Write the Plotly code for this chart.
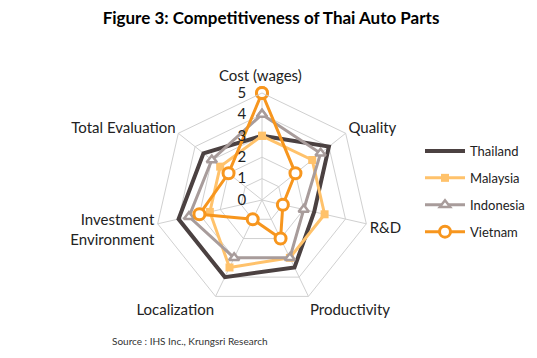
import plotly.graph_objects as go

categories = ["Cost (wages)", "Quality", "R&D", "Productivity", "Localization",
              "Investment<br>Environment", "Total Evaluation"]
thailand = [3, 4, 2.5, 3.5, 4, 4, 3.5]
malaysia = [3, 3, 3, 3, 3.5, 2.5, 2.5]
indonesia = [4, 3.5, 2, 3, 3, 3.5, 3]
vietnam = [5, 2, 1, 2, 1, 3, 2]
radial_ticks = [0, 1, 2, 3, 4, 5]

FONT = "Lato"

def closed(v):
    return list(v) + [v[0]]

theta = closed(categories)
# top label drawn as annotation so it can sit clear of the "5" tick
angular_text = [""] + categories[1:]

fig = go.Figure()
fig.add_trace(go.Scatterpolar(
    r=closed(thailand), theta=theta, name="Thailand", mode="lines", legendgroup="a",
    line=dict(color="#4B4141", width=4)))
fig.add_trace(go.Scatterpolar(
    r=closed(malaysia), theta=theta, name="Malaysia", mode="lines+markers", legendgroup="b",
    line=dict(color="#FFC26B", width=3),
    marker=dict(symbol="square", size=8, color="#FFC26B")))
fig.add_trace(go.Scatterpolar(
    r=closed(indonesia), theta=theta, name="Indonesia", mode="lines+markers", legendgroup="c",
    line=dict(color="#A89C9B", width=3),
    marker=dict(symbol="triangle-up", size=9, color="white",
                line=dict(color="#A89C9B", width=2.5))))
fig.add_trace(go.Scatterpolar(
    r=closed(vietnam), theta=theta, name="Vietnam", mode="lines+markers", legendgroup="d",
    line=dict(color="#F7961E", width=3),
    marker=dict(symbol="circle", size=11, color="white",
                line=dict(color="#F7961E", width=3))))

R = 107
cx, cy = 254, 192
W, H = 537, 358
fig.update_layout(
    width=W, height=H,
    margin=dict(l=0, r=0, t=0, b=0),
    paper_bgcolor="white",
    font=dict(family=FONT, size=13, color="#222"),
    title=dict(text="<b>Figure 3: Competitiveness of Thai Auto Parts</b>",
               x=263 / W, xanchor="center", y=1 - 10 / H, yanchor="middle",
               font=dict(family=FONT, size=17, color="black")),
    polar=dict(
        domain=dict(x=[(cx - R) / W, (cx + R) / W],
                    y=[(H - cy - R) / H, (H - cy + R) / H]),
        gridshape="linear",
        bgcolor="white",
        radialaxis=dict(range=[0, 5], tickvals=radial_ticks, angle=90,
                        tickangle=90, side="counterclockwise", showline=False,
                        ticks="outside", ticklen=10, tickcolor="rgba(0,0,0,0)",
                        gridcolor="#D0D0D0", gridwidth=1,
                        tickfont=dict(family=FONT, size=15, color="#222")),
        angularaxis=dict(rotation=90, direction="clockwise",
                         tickvals=categories, ticktext=angular_text,
                         gridcolor="#D0D0D0", linecolor="#D0D0D0",
                         ticks="", tickfont=dict(family=FONT, size=15, color="#222")),
    ),
    legend=dict(x=412 / W, y=1 - 128 / H, xanchor="left", yanchor="top",
                font=dict(family=FONT, size=13, color="#222"),
                tracegroupgap=7, itemwidth=40),
    annotations=[
        dict(text="Source : IHS Inc., Krungsri Research",
             x=182 / W, y=1 - 333 / H, xref="paper", yref="paper",
             xanchor="center", yanchor="middle",
             showarrow=False, font=dict(family=FONT, size=10, color="#333")),
        dict(text=categories[0], x=252 / W, y=1 - 67 / H, xref="paper", yref="paper",
             xanchor="center", yanchor="middle",
             showarrow=False, font=dict(family=FONT, size=15, color="#222")),
    ],
)

fig.write_html("out.html")
